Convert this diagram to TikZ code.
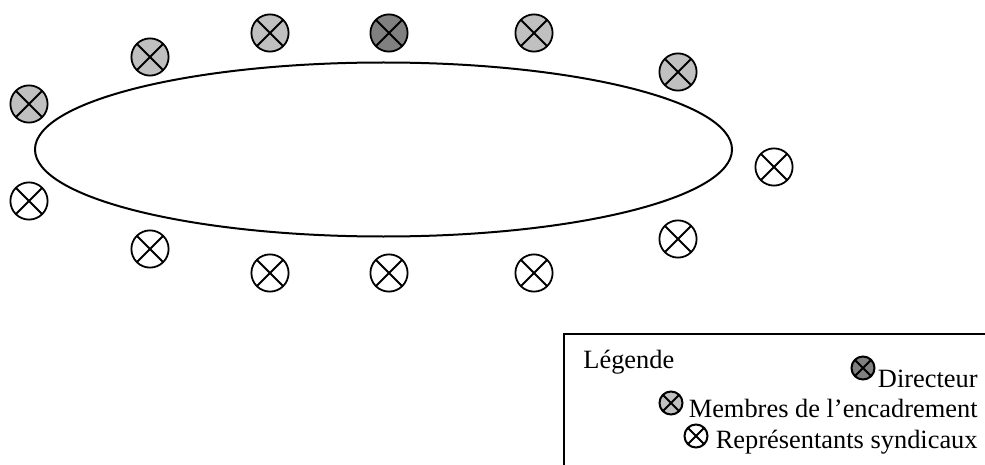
\documentclass[tikz,border=0pt]{standalone}
\usepackage{fontspec}
\setmainfont{Liberation Serif}
\usepackage{tikz}
\usetikzlibrary{shapes.geometric}
\definecolor{dirgray}{HTML}{808080}
\definecolor{cadgray}{HTML}{C0C0C0}
\begin{document}
\begin{tikzpicture}[
  x=0.5pt, y=-0.5pt,
  font=\fontsize{13.2pt}{15pt}\selectfont,
  tablebox/.style={draw, ellipse, line width=1pt, minimum width=348.5pt,
                   minimum height=87pt, inner sep=0pt},
  seat/.style={draw, circle, line width=0.9pt, minimum size=18.6pt, inner sep=0pt,
    path picture={\draw[line width=0.9pt]
      (path picture bounding box.south west) -- (path picture bounding box.north east)
      (path picture bounding box.north west) -- (path picture bounding box.south east);}},
  key/.style={seat, minimum size=11.5pt, line width=1pt},
  dirseat/.style={fill=dirgray},
  cadseat/.style={fill=cadgray},
  keytxt/.style={anchor=base east, inner sep=0pt},
]
\useasboundingbox (0,0) rectangle (985,465);
\clip (0,0) rectangle (985,465);

\node[tablebox] (table) at (383.5,149.5) {};

% directeur et encadrement
\node[seat, dirseat] (dir) at (389,33) {};
\node[seat, cadseat] (c1) at (29,104) {};
\node[seat, cadseat] (c2) at (150,57) {};
\node[seat, cadseat] (c3) at (270,33) {};
\node[seat, cadseat] (c4) at (534,33) {};
\node[seat, cadseat] (c5) at (678,72) {};

% representants syndicaux
\node[seat] (r1) at (29,201) {};
\node[seat] (r2) at (150,249) {};
\node[seat] (r3) at (270,273) {};
\node[seat] (r4) at (389,273) {};
\node[seat] (r5) at (534,273) {};
\node[seat] (r6) at (678,239) {};
\node[seat] (r7) at (774,167) {};

% legende
\draw[line width=0.75pt] (1000,334) -| (564,480);
\node[anchor=base west, inner sep=0pt] (leg) at (583,368) {Légende};
\node[keytxt] (ldir) at (978,387) {Directeur};
\node[keytxt] (lcad) at (978,417) {Membres de l’encadrement};
\node[keytxt] (lrep) at (978,448) {Représentants syndicaux};
\node[key, dirseat] (kdir) at (863,368) {};
\node[key, cadseat] (kcad) at (671,403) {};
\node[key] (krep) at (696,436) {};
\end{tikzpicture}
\end{document}
